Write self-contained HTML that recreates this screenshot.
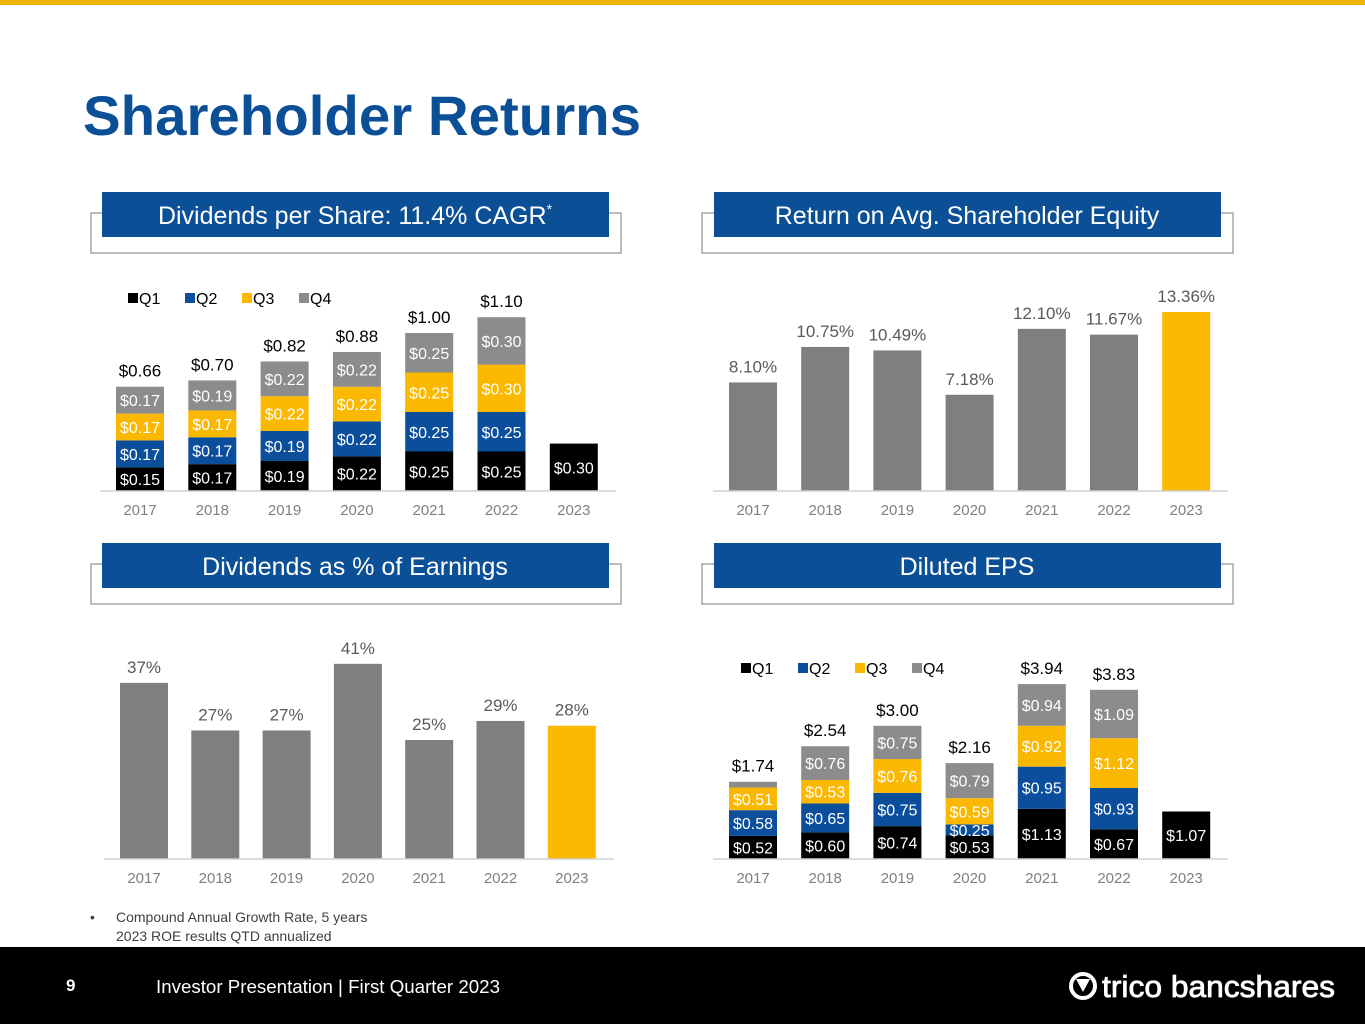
<!DOCTYPE html>
<html><head><meta charset="utf-8"><style>
body{margin:0;width:1365px;height:1024px;overflow:hidden;background:#fff;font-family:"Liberation Sans",sans-serif;}
svg text{font-family:"Liberation Sans",sans-serif;}
</style></head><body>
<svg id="s" width="1365" height="1024" viewBox="0 0 1365 1024" xmlns="http://www.w3.org/2000/svg">
<rect x="0" y="0" width="1365" height="5" fill="#f0b400"/>
<text x="83" y="135" font-size="56" font-weight="bold" fill="#0b4f97" textLength="558" lengthAdjust="spacingAndGlyphs">Shareholder Returns</text>

<g>
<rect x="91" y="213" width="530" height="40" fill="#fff" stroke="#a6a6a6" stroke-width="1.5"/>
<rect x="102" y="192" width="507" height="45" fill="#0b4f97"/>
<text x="355" y="224" font-size="25" fill="#fff" text-anchor="middle">Dividends per Share: 11.4% CAGR<tspan font-size="14" dy="-10">*</tspan></text>
</g>
<g>
<rect x="702" y="213" width="531" height="40" fill="#fff" stroke="#a6a6a6" stroke-width="1.5"/>
<rect x="714" y="192" width="507" height="45" fill="#0b4f97"/>
<text x="967" y="224" font-size="25" fill="#fff" text-anchor="middle">Return on Avg. Shareholder Equity</text>
</g>
<g>
<rect x="91" y="564" width="530" height="40" fill="#fff" stroke="#a6a6a6" stroke-width="1.5"/>
<rect x="102" y="543" width="507" height="45" fill="#0b4f97"/>
<text x="355" y="575" font-size="25" fill="#fff" text-anchor="middle">Dividends as % of Earnings</text>
</g>
<g>
<rect x="702" y="564" width="531" height="40" fill="#fff" stroke="#a6a6a6" stroke-width="1.5"/>
<rect x="714" y="543" width="507" height="45" fill="#0b4f97"/>
<text x="967" y="575" font-size="25" fill="#fff" text-anchor="middle">Diluted EPS</text>
</g>

<g id="c1"></g>
<g id="c2"></g>
<g id="c3"></g>
<g id="c4"></g>

<g font-size="14" fill="#404040">
<text x="90" y="922">•</text>
<text x="116" y="922">Compound Annual Growth Rate, 5 years</text>
<text x="116" y="941">2023 ROE results QTD annualized</text>
</g>

<rect x="0" y="947" width="1365" height="77" fill="#000"/>
<text x="66" y="991" font-size="17" font-weight="bold" fill="#fff">9</text>
<text x="156" y="993" font-size="18" fill="#fff" textLength="344" lengthAdjust="spacingAndGlyphs">Investor Presentation | First Quarter 2023</text>
<g>
<circle cx="1083" cy="986" r="12" fill="none" stroke="#fff" stroke-width="4"/>
<path d="M1076 979 L1083 992 L1090 979 Z" fill="#fff"/>
<text x="1102" y="997" font-size="31" fill="#fff" stroke="#fff" stroke-width="0.8" textLength="233" lengthAdjust="spacingAndGlyphs">trico bancshares</text>
</g>
</svg>
<script>
const years=["2017","2018","2019","2020","2021","2022","2023"];
// Dividends per share
const divQ1=[0.15,0.17,0.19,0.22,0.25,0.25,0.30];
const divQ2=[0.17,0.17,0.19,0.22,0.25,0.25,null];
const divQ3=[0.17,0.17,0.22,0.22,0.25,0.30,null];
const divQ4=[0.17,0.19,0.22,0.22,0.25,0.30,null];
const divTotals=["$0.66","$0.70","$0.82","$0.88","$1.00","$1.10",""];
// ROE
const roeVals=[8.10,10.75,10.49,7.18,12.10,11.67,13.36];
// Dividend payout
const payoutVals=[37,27,27,41,25,29,28];
// EPS
const epsQ1=[0.52,0.60,0.74,0.53,1.13,0.67,1.07];
const epsQ2=[0.58,0.65,0.75,0.25,0.95,0.93,null];
const epsQ3=[0.51,0.53,0.76,0.59,0.92,1.12,null];
const epsQ4=[0.13,0.76,0.75,0.79,0.94,1.09,null];
const epsTotals=["$1.74","$2.54","$3.00","$2.16","$3.94","$3.83",""];

const NS="http://www.w3.org/2000/svg";
function el(p,t,a,txt){const e=document.createElementNS(NS,t);for(const k in a)e.setAttribute(k,a[k]);if(txt!==undefined)e.textContent=txt;p.appendChild(e);return e;}
const colors=["#000000","#0b4f9c","#fbb800","#8c8c8c"];

function axis(g,x0,x1,base,cx){
  const l=el(g,'line',{x1:x0,x2:x1,y1:base,y2:base,stroke:'#d0d0d0','stroke-width':1.5});
  
  years.forEach((y,i)=>{const t=el(g,'text',{x:cx(i),y:base+24,'font-size':15,fill:'#808080','text-anchor':'middle'},y);
    });
}
function legend(g,x,y){
  ["Q1","Q2","Q3","Q4"].forEach((q,i)=>{const xx=x+i*57;
    const r=el(g,'rect',{x:xx,y:y-11,width:10,height:10,fill:colors[i]});
    
    const t=el(g,'text',{x:xx+11,y:y,'font-size':16,fill:'#000'},q);
    });
}
function stacked(g,series,totals,cx0,step,base,scale,w,fmt){
  const cx=i=>cx0+i*step;
  const ys=v=>v*scale;
  years.forEach((y,i)=>{let top=base;
    series.forEach((s,k)=>{const v=s[i];if(v==null)return;const h=ys(v);top-=h;
      const r=el(g,'rect',{x:cx(i)-w/2,y:top,width:w,height:h,fill:colors[k]});
      
      if(h>9){const t=el(g,'text',{x:cx(i),y:top+h/2+6,'font-size':16,fill:'#fff','text-anchor':'middle'},fmt(v));
        }
    });
    if(totals[i]){const t=el(g,'text',{x:cx(i),y:top-10,'font-size':17,fill:'#000','text-anchor':'middle'},totals[i]);
      }
  });
  axis(g,cx0-40,cx(6)+42,base,cx);
}
function simple(g,vals,cx0,step,base,scale,w,fmt){
  const cx=i=>cx0+i*step;
  vals.forEach((v,i)=>{const h=v*scale;
    const r=el(g,'rect',{x:cx(i)-w/2,y:base-h,width:w,height:h,fill:i==6?'#fbb800':'#7f7f7f'});
    
    const t=el(g,'text',{x:cx(i),y:base-h-10,'font-size':17,fill:'#595959','text-anchor':'middle'},fmt(v));
    });
  axis(g,cx0-40,cx(6)+42,base,cx);
}
const f2=v=>'$'+v.toFixed(2);
const c1=document.getElementById('c1');
legend(c1,128,304);
stacked(c1,[divQ1,divQ2,divQ3,divQ4],divTotals,140,72.3,491,158,48,f2);
simple(document.getElementById('c2'),roeVals,753,72.2,491,13.4,48,v=>v.toFixed(2)+'%');
simple(document.getElementById('c3'),payoutVals,144,71.3,859,4.76,48,v=>v+'%');
const c4=document.getElementById('c4');
legend(c4,741,674);
stacked(c4,[epsQ1,epsQ2,epsQ3,epsQ4],epsTotals,753,72.2,859,44.4,48,f2);
</script>
</body></html>
